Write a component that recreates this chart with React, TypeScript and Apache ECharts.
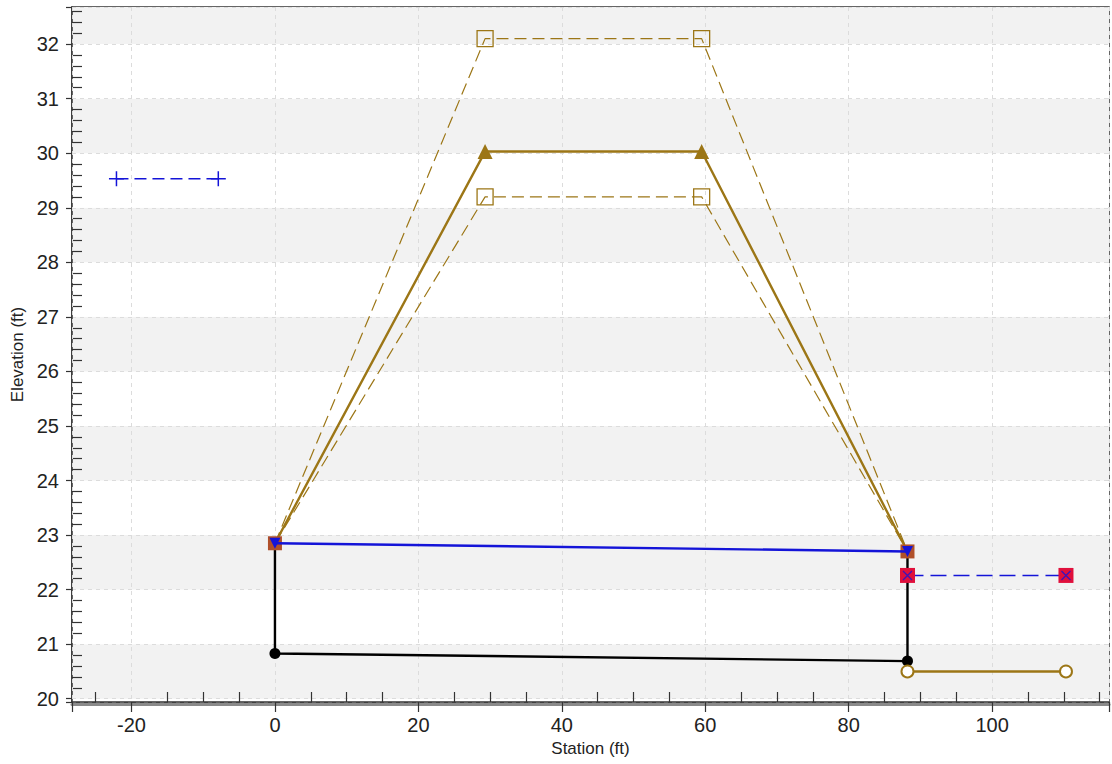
import React, { useEffect, useRef } from 'react';
import * as echarts from 'echarts';

// Axis ranges
const X_MIN = -28.3;
const X_MAX = 116.3;
const Y_MIN = 19.94;
const Y_MAX = 32.68;

// Data
const gageX = [-22.1, -7.9];
const gageY = [29.53, 29.53];

const roadX = [0, 29.3, 59.5, 88.2];
const roadUpperY = [22.85, 32.1, 32.1, 22.7];
const roadMidY = [22.85, 30.03, 30.03, 22.7];
const roadLowerY = [22.85, 29.2, 29.2, 22.7];

const wsX = [0, 88.2];
const wsY = [22.85, 22.7];

const bedX = [0, 88.2];
const bedY = [20.83, 20.69];

const tailX = [88.2, 110.3];
const tailWsY = [22.26, 22.26];
const tailBedY = [20.5, 20.5];

const BROWN = '#9c7616';
const BLUE = '#1414d8';
const FONT = 'Liberation Sans, Arial, sans-serif';

const zip = (xs: number[], ys: number[]) => xs.map((x, i) => [x, ys[i]]);

export default function App() {
  const ref = useRef<HTMLDivElement>(null);
  useEffect(() => {
    if (!ref.current) return;
    const chart = echarts.init(ref.current, null, { renderer: 'svg' });

    const roadEnds = (ys: number[]) =>
      zip(roadX, ys).map((p, i) =>
        i === 0 || i === roadX.length - 1 ? { value: p, symbol: 'none' } : { value: p }
      );

    const channel = [
      { value: [wsX[0], wsY[0]], symbol: 'none' },
      { value: [bedX[0], bedY[0]] },
      { value: [bedX[1], bedY[1]] },
      { value: [wsX[1], wsY[1]], symbol: 'none' },
    ];

    const option: any = {
      animation: false,
      backgroundColor: '#ffffff',
      grid: {
        left: 72,
        right: 0,
        top: 7,
        bottom: 62,
        show: true,
        borderColor: '#333',
        borderWidth: 1.5,
        backgroundColor: 'transparent',
      },
      xAxis: [
        {
          type: 'value',
          min: X_MIN,
          max: X_MAX,
          minInterval: 20,
          maxInterval: 20,
          name: 'Station (ft)',
          nameLocation: 'middle',
          nameGap: 37,
          nameTextStyle: { fontFamily: FONT, fontSize: 17, color: '#222' },
          axisLine: { show: true, onZero: false, lineStyle: { color: '#333', width: 1.5 } },
          axisTick: { show: true, inside: false, length: 10, lineStyle: { color: '#333', width: 1.2 } },
          axisLabel: {
            fontFamily: FONT,
            fontSize: 20,
            color: '#222',
            margin: 13,
            formatter: (v: number) => (Math.abs(v % 20) < 1e-6 ? String(v) : ''),
          },
          splitLine: { show: true, lineStyle: { color: '#dcdcdc', type: [4, 4], width: 1 } },
          minorTick: { show: false },
          z: 3,
        },
        {
          type: 'value',
          min: X_MIN,
          max: X_MAX,
          minInterval: 20,
          maxInterval: 20,
          position: 'bottom',
          axisLine: { show: false, onZero: false },
          axisTick: { show: false, inside: true },
          axisLabel: { show: false },
          splitLine: { show: false },
          minorTick: { show: true, splitNumber: 4, length: 10, lineStyle: { color: '#333', width: 1.2 } },
        },
        {
          type: 'value',
          min: X_MIN,
          max: X_MAX,
          position: 'bottom',
          offset: 2.5,
          axisLine: { show: true, onZero: false, lineStyle: { color: '#8a8a8a', width: 3 } },
          axisTick: { show: false },
          axisLabel: { show: false },
          splitLine: { show: false },
          z: 1,
        },
      ],
      yAxis: [
        {
          type: 'value',
          min: Y_MIN,
          max: Y_MAX,
          minInterval: 1,
          maxInterval: 1,
          name: 'Elevation (ft)',
          nameLocation: 'middle',
          nameGap: 46,
          nameTextStyle: { fontFamily: FONT, fontSize: 17, color: '#222' },
          axisLine: { show: true, onZero: false, lineStyle: { color: '#333', width: 1.5 } },
          axisTick: { show: true, inside: false, length: 6, lineStyle: { color: '#333', width: 1.2 } },
          axisLabel: {
            fontFamily: FONT,
            fontSize: 20,
            color: '#222',
            margin: 13,
            formatter: (v: number) => (Math.abs(v - Math.round(v)) < 1e-6 ? String(Math.round(v)) : ''),
          },
          splitLine: { show: true, lineStyle: { color: '#dcdcdc', type: [4, 4], width: 1 } },
          splitArea: { show: true, areaStyle: { color: ['#ffffff', '#f2f2f2'] } },
          minorTick: { show: false },
        },
        {
          type: 'value',
          min: Y_MIN,
          max: Y_MAX,
          minInterval: 1,
          maxInterval: 1,
          position: 'left',
          axisLine: { show: false, onZero: false },
          axisTick: { show: false, inside: true },
          axisLabel: { show: false },
          splitLine: { show: false },
          minorTick: { show: true, splitNumber: 5, length: 10, lineStyle: { color: '#333', width: 1.2 } },
        },
      ],
      series: [
        {
          name: 'Gage',
          type: 'line',
          data: zip(gageX, gageY),
          symbol: 'path://M7,0 L7,14 M0,7 L14,7',
          symbolSize: 15,
          lineStyle: { color: BLUE, width: 1.5, type: [12, 6] },
          itemStyle: { color: BLUE, borderColor: BLUE, borderWidth: 1.5 },
          z: 3,
        },
        {
          name: 'Channel',
          type: 'line',
          data: channel,
          symbol: 'circle',
          symbolSize: 11,
          lineStyle: { color: '#000', width: 2.4 },
          itemStyle: { color: '#000' },
          z: 3,
        },
        {
          name: 'Road upper',
          type: 'line',
          data: roadEnds(roadUpperY),
          symbol: 'rect',
          symbolSize: 16,
          lineStyle: { color: BROWN, width: 1.2, type: [12, 6] },
          itemStyle: { color: 'rgba(255,255,255,0)', borderColor: BROWN, borderWidth: 1.3 },
          z: 4,
        },
        {
          name: 'Road lower',
          type: 'line',
          data: roadEnds(roadLowerY),
          symbol: 'rect',
          symbolSize: 16,
          lineStyle: { color: BROWN, width: 1.2, type: [12, 6] },
          itemStyle: { color: 'rgba(255,255,255,0)', borderColor: BROWN, borderWidth: 1.3 },
          z: 4,
        },
        {
          name: 'Road',
          type: 'line',
          data: zip(roadX, roadMidY).map((p, i) =>
            i === 0 || i === roadX.length - 1
              ? { value: p, symbol: 'rect', symbolSize: 14, itemStyle: { color: '#b0502a' } }
              : { value: p }
          ),
          symbol: 'triangle',
          symbolSize: 15,
          lineStyle: { color: BROWN, width: 2.4 },
          itemStyle: { color: BROWN },
          z: 5,
        },
        {
          name: 'Water surface',
          type: 'line',
          data: zip(wsX, wsY),
          symbol: 'triangle',
          symbolRotate: 180,
          symbolSize: 11,
          lineStyle: { color: BLUE, width: 2.4 },
          itemStyle: { color: BLUE },
          z: 6,
        },
        {
          name: 'Tailwater bed',
          type: 'line',
          data: zip(tailX, tailBedY),
          symbol: 'emptyCircle',
          symbolSize: 12,
          lineStyle: { color: BROWN, width: 2.4 },
          itemStyle: { color: BROWN, borderColor: BROWN, borderWidth: 1 },
          z: 4,
        },
        {
          name: 'Tailwater',
          type: 'line',
          data: zip(tailX, tailWsY),
          symbol: 'rect',
          symbolSize: 15,
          lineStyle: { color: BLUE, width: 1.5, type: [16, 7] },
          itemStyle: { color: '#e0103c' },
          z: 5,
        },
        {
          name: 'Tailwater mark',
          type: 'scatter',
          data: zip(tailX, tailWsY),
          symbol: 'path://M0,0 L10,10 M10,0 L0,10',
          symbolSize: 9,
          itemStyle: { color: BLUE, borderColor: BLUE, borderWidth: 1.3 },
          z: 6,
        },
      ],
    };
    chart.setOption(option);
    return () => chart.dispose();
  }, []);

  return (
    <div
      ref={ref}
      style={{ position: 'fixed', left: 0, top: 0, width: 1112, height: 764, background: '#fff' }}
    />
  );
}
